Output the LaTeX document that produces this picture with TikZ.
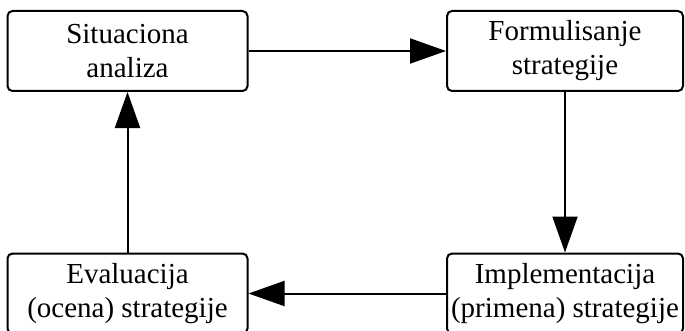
\documentclass[tikz,border=0pt]{standalone}
\usepackage{fontspec}
\setmainfont{Liberation Serif}
\usetikzlibrary{arrows.meta}

\begin{document}
\begin{tikzpicture}[x=1pt,y=1pt,
  box/.style={draw, line width=2pt, rounded corners=5pt, minimum width=240pt, minimum height=80pt, inner sep=0pt, align=center, font=\fontsize{29}{34}\selectfont},
  flow/.style={line width=2pt, -{Triangle[length=36pt,width=25pt]}}]
 \useasboundingbox (0,0) rectangle (685,330);

\node [box] (sa) at (127.5,279) {Situaciona\\analiza};
\node [box, minimum width=236pt] (fs) at (565,279) {Formulisanje\\strategije};
\node [box, minimum width=236pt] (is) at (565,36.5) {Implementacija\\(primena) strategije};
\node [box] (es) at (127.5,36.5) {Evaluacija\\(ocena) strategije};

\draw [flow] (sa.east) -- (fs.west);
\draw [flow] (fs.south) -- (is.north);
\draw [flow] (is.west) -- (es.east);
\draw [flow] (es.north) -- (sa.south);
\end{tikzpicture}
\end{document}
